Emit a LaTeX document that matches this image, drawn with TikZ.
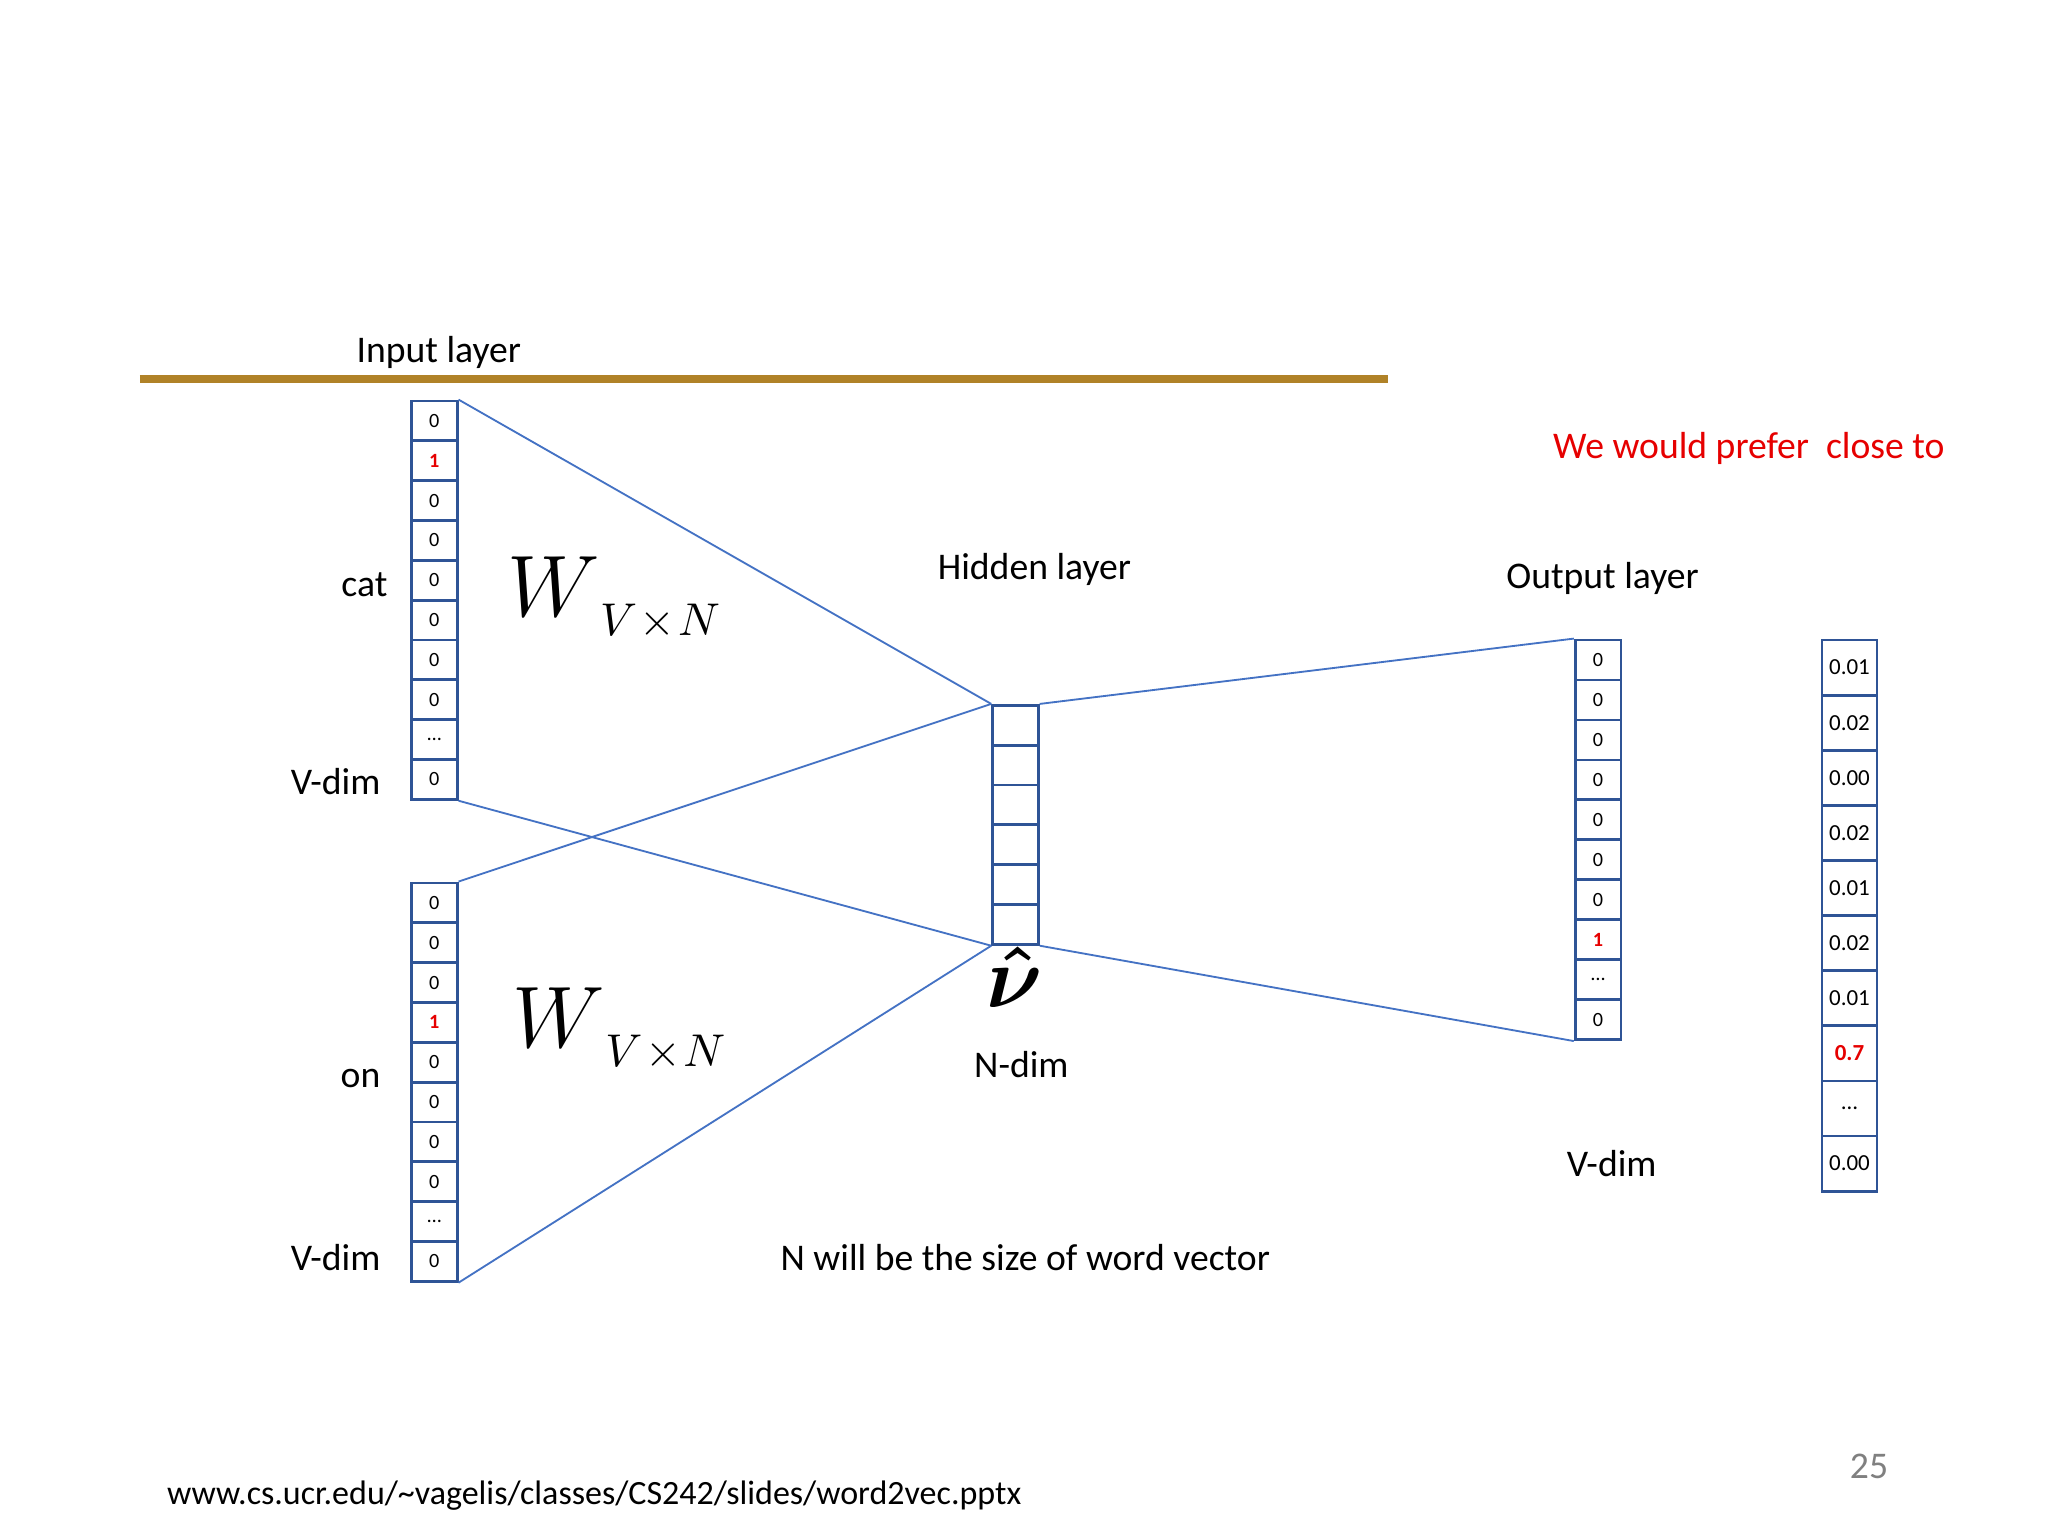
\RequirePackage{fix-cm}
\documentclass[tikz,border=0pt]{standalone}
\usepackage{amsmath}
\usepackage{fontspec}
\setmainfont{Carlito}
\definecolor{boxblue}{RGB}{47,84,150}
\definecolor{lineblue}{RGB}{68,114,196}
\definecolor{gold}{RGB}{176,130,40}
\definecolor{redt}{RGB}{230,0,0}
\newcommand{\wvn}{{\fontsize{19}{22}\selectfont$W$}\raisebox{-4pt}{\fontsize{10}{12}\selectfont$V\!\times\! N$}}
\begin{document}
\begin{tikzpicture}[x=0.01cm,y=-0.01cm,
  cell/.style={draw=boxblue,line width=0.6pt,inner sep=0pt,minimum width=0.35cm,font=\fontsize{4.4}{5}\selectfont},
  pcell/.style={draw=boxblue,line width=0.6pt,inner sep=0pt,minimum width=0.42cm,minimum height=0.422cm,font=\fontsize{5}{6}\selectfont},
  lbl/.style={font=\fontsize{8.2}{10}\selectfont},
  conn/.style={draw=lineblue,line width=0.4pt}]
\useasboundingbox (0,0) rectangle (1568,1176);
\fill[white] (0,0) rectangle (1568,1176);
\draw[gold,line width=1.7pt] (107,290) -- (1063,290);
\node[lbl] (inl) at (336,270) {Input layer};
\foreach \v [count=\i] in {0,{\textcolor{redt}{\textbf{1}}},0,0,0,0,0,0,{\ldots},0}
  \node[cell,minimum height=0.305cm] (c\i) at (332.5,{307+30.5*(\i-0.5)}) {\v};
\foreach \v [count=\i] in {0,0,0,{\textcolor{redt}{\textbf{1}}},0,0,0,0,{\ldots},0}
  \node[cell,minimum height=0.305cm] (o\i) at (332.5,{676+30.5*(\i-0.5)}) {\v};
\foreach \i in {1,2,3,4,5,6}
  \node[cell,minimum height=0.305cm] (h\i) at (777.5,{540+30.5*(\i-0.5)}) {};
\foreach \v [count=\i] in {0,0,0,0,0,0,0,{\textcolor{redt}{\textbf{1}}},{\ldots},0}
  \node[cell,minimum height=0.306cm] (u\i) at (1223.5,{490+30.6*(\i-0.5)}) {\v};
\foreach \v [count=\i] in {0.01,0.02,0.00,0.02,0.01,0.02,0.01,{\textcolor{redt}{\textbf{0.7}}},{\ldots},0.00}
  \node[pcell] (p\i) at (1416,{490+42.2*(\i-0.5)}) {\v};
\draw[conn] (c1.north east) -- (h1.north west);
\draw[conn] (c10.south east) -- (h6.south west);
\draw[conn] (o1.north east) -- (h1.north west);
\draw[conn] (o10.south east) -- (h6.south west);
\draw[conn] (h1.north east) -- (u1.north west);
\draw[conn] (h6.south east) -- (u10.south west);
\node[lbl] (cat) at (279,448) {cat};
\node[lbl] (vd1) at (257,598) {V-dim};
\node[lbl] (on) at (276,826) {on};
\node[lbl] (vd2) at (257,963) {V-dim};
\node[anchor=west,inner sep=0pt] (w1) at (388,458) {\wvn};
\node[anchor=west,inner sep=0pt] (w2) at (392,788) {\wvn};
\node[lbl] (hid) at (792,436) {Hidden layer};
\node (vh) at (777,748) {\fontsize{19}{22}\selectfont$\boldsymbol{\hat{\nu}}$};
\node[lbl] (nd) at (782,815) {N-dim};
\node[lbl] (outl) at (1227,443) {Output layer};
\node[lbl] (vd3) at (1234,891) {V-dim};
\node[lbl,text=redt] (pref) at (1339,343) {We would prefer\ \ close to};
\node[lbl] (nwill) at (785,963) {N will be the size of word vector};
\node[lbl,text=gray] (pg) at (1431,1123) {25};
\node[font=\fontsize{7.4}{9}\selectfont] (url) at (455,1145) {www.cs.ucr.edu/\textasciitilde vagelis/classes/CS242/slides/word2vec.pptx};
\end{tikzpicture}
\end{document}
